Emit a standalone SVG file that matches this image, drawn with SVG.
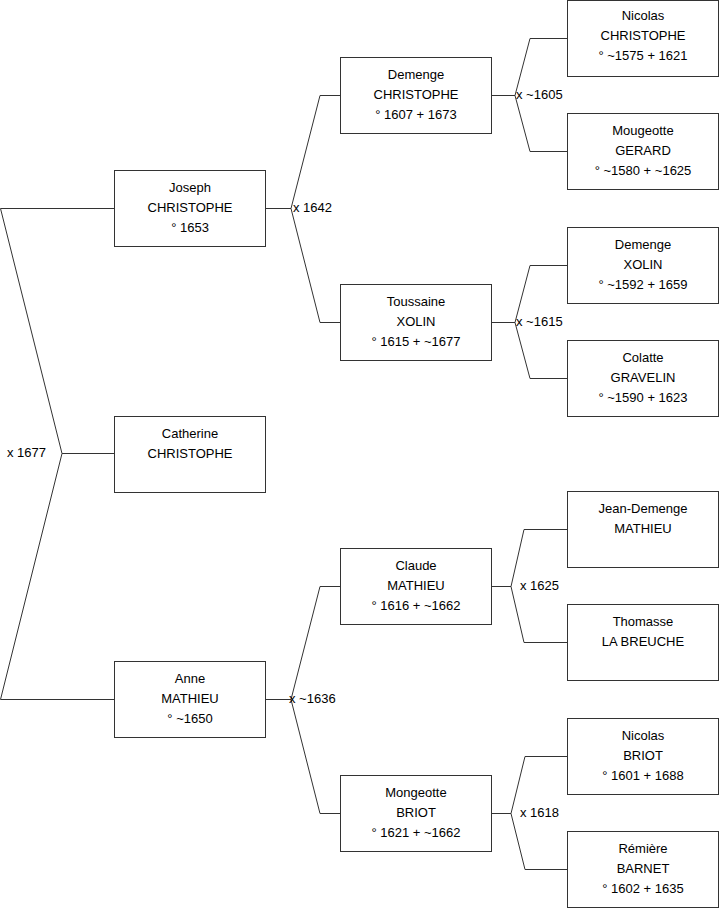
<svg xmlns="http://www.w3.org/2000/svg" width="719" height="908" viewBox="0 0 719 908">
<style>
.box{fill:#fff;stroke:#333;stroke-width:1}
.c{fill:none;stroke:#333;stroke-width:1}
text{font-family:"Liberation Sans",Arial,sans-serif;font-size:13px;fill:#000}
.n{text-anchor:middle}
</style>
<rect width="719" height="908" fill="#fff"/>
<g id="connectors">
<path class="c" d="M114,208.5 H0.5 L62,453.5 L0.5,699.5 H114 M62,453.5 H114"/>
<path class="c" d="M265,208.5 H291 L320,95.5 H340 M291,208.5 L320,322.5 H340"/>
<path class="c" d="M265,699.5 H291 L320,586.5 H340 M291,699.5 L320,813.5 H340"/>
<path class="c" d="M491,95.5 H515 L530,38.5 H567 M515,95.5 L530,151.5 H567"/>
<path class="c" d="M491,322.5 H515 L530,265.5 H567 M515,322.5 L530,378.5 H567"/>
<path class="c" d="M491,586.5 H511 L524,529.5 H567 M511,586.5 L524,642.5 H567"/>
<path class="c" d="M491,813.5 H511 L525,756.5 H567 M511,813.5 L525,869.5 H567"/>
<text x="7" y="457">x 1677</text>
<text x="293" y="212">x 1642</text>
<text x="289" y="703">x ~1636</text>
<text x="516" y="99">x ~1605</text>
<text x="516" y="326">x ~1615</text>
<text x="520" y="590">x 1625</text>
<text x="520" y="817">x 1618</text>
</g>
<g id="joseph"><rect class="box" x="114.5" y="170.5" width="151" height="76"/>
<text class="n" x="190" y="192">Joseph</text><text class="n" x="190" y="212">CHRISTOPHE</text><text class="n" x="190" y="232">° 1653</text></g>
<g id="catherine"><rect class="box" x="114.5" y="416.5" width="151" height="76"/>
<text class="n" x="190" y="438">Catherine</text><text class="n" x="190" y="458">CHRISTOPHE</text></g>
<g id="anne"><rect class="box" x="114.5" y="661.5" width="151" height="76"/>
<text class="n" x="190" y="683">Anne</text><text class="n" x="190" y="703">MATHIEU</text><text class="n" x="190" y="723">° ~1650</text></g>
<g id="demenge-christophe"><rect class="box" x="340.5" y="57.5" width="151" height="76"/>
<text class="n" x="416" y="79">Demenge</text><text class="n" x="416" y="99">CHRISTOPHE</text><text class="n" x="416" y="119">° 1607 + 1673</text></g>
<g id="toussaine-xolin"><rect class="box" x="340.5" y="284.5" width="151" height="76"/>
<text class="n" x="416" y="306">Toussaine</text><text class="n" x="416" y="326">XOLIN</text><text class="n" x="416" y="346">° 1615 + ~1677</text></g>
<g id="claude-mathieu"><rect class="box" x="340.5" y="548.5" width="151" height="76"/>
<text class="n" x="416" y="570">Claude</text><text class="n" x="416" y="590">MATHIEU</text><text class="n" x="416" y="610">° 1616 + ~1662</text></g>
<g id="mongeotte-briot"><rect class="box" x="340.5" y="775.5" width="151" height="76"/>
<text class="n" x="416" y="797">Mongeotte</text><text class="n" x="416" y="817">BRIOT</text><text class="n" x="416" y="837">° 1621 + ~1662</text></g>
<g id="nicolas-christophe"><rect class="box" x="567.5" y="0.5" width="151" height="76"/>
<text class="n" x="643" y="20">Nicolas</text><text class="n" x="643" y="40">CHRISTOPHE</text><text class="n" x="643" y="60">° ~1575 + 1621</text></g>
<g id="mougeotte-gerard"><rect class="box" x="567.5" y="113.5" width="151" height="76"/>
<text class="n" x="643" y="135">Mougeotte</text><text class="n" x="643" y="155">GERARD</text><text class="n" x="643" y="175">° ~1580 + ~1625</text></g>
<g id="demenge-xolin"><rect class="box" x="567.5" y="227.5" width="151" height="76"/>
<text class="n" x="643" y="249">Demenge</text><text class="n" x="643" y="269">XOLIN</text><text class="n" x="643" y="289">° ~1592 + 1659</text></g>
<g id="colatte-gravelin"><rect class="box" x="567.5" y="340.5" width="151" height="76"/>
<text class="n" x="643" y="362">Colatte</text><text class="n" x="643" y="382">GRAVELIN</text><text class="n" x="643" y="402">° ~1590 + 1623</text></g>
<g id="jean-demenge-mathieu"><rect class="box" x="567.5" y="491.5" width="151" height="76"/>
<text class="n" x="643" y="513">Jean-Demenge</text><text class="n" x="643" y="533">MATHIEU</text></g>
<g id="thomasse-la-breuche"><rect class="box" x="567.5" y="604.5" width="151" height="76"/>
<text class="n" x="643" y="626">Thomasse</text><text class="n" x="643" y="646">LA BREUCHE</text></g>
<g id="nicolas-briot"><rect class="box" x="567.5" y="718.5" width="151" height="76"/>
<text class="n" x="643" y="740">Nicolas</text><text class="n" x="643" y="760">BRIOT</text><text class="n" x="643" y="780">° 1601 + 1688</text></g>
<g id="remiere-barnet"><rect class="box" x="567.5" y="831.5" width="151" height="76"/>
<text class="n" x="643" y="853">Rémière</text><text class="n" x="643" y="873">BARNET</text><text class="n" x="643" y="893">° 1602 + 1635</text></g>
</svg>
